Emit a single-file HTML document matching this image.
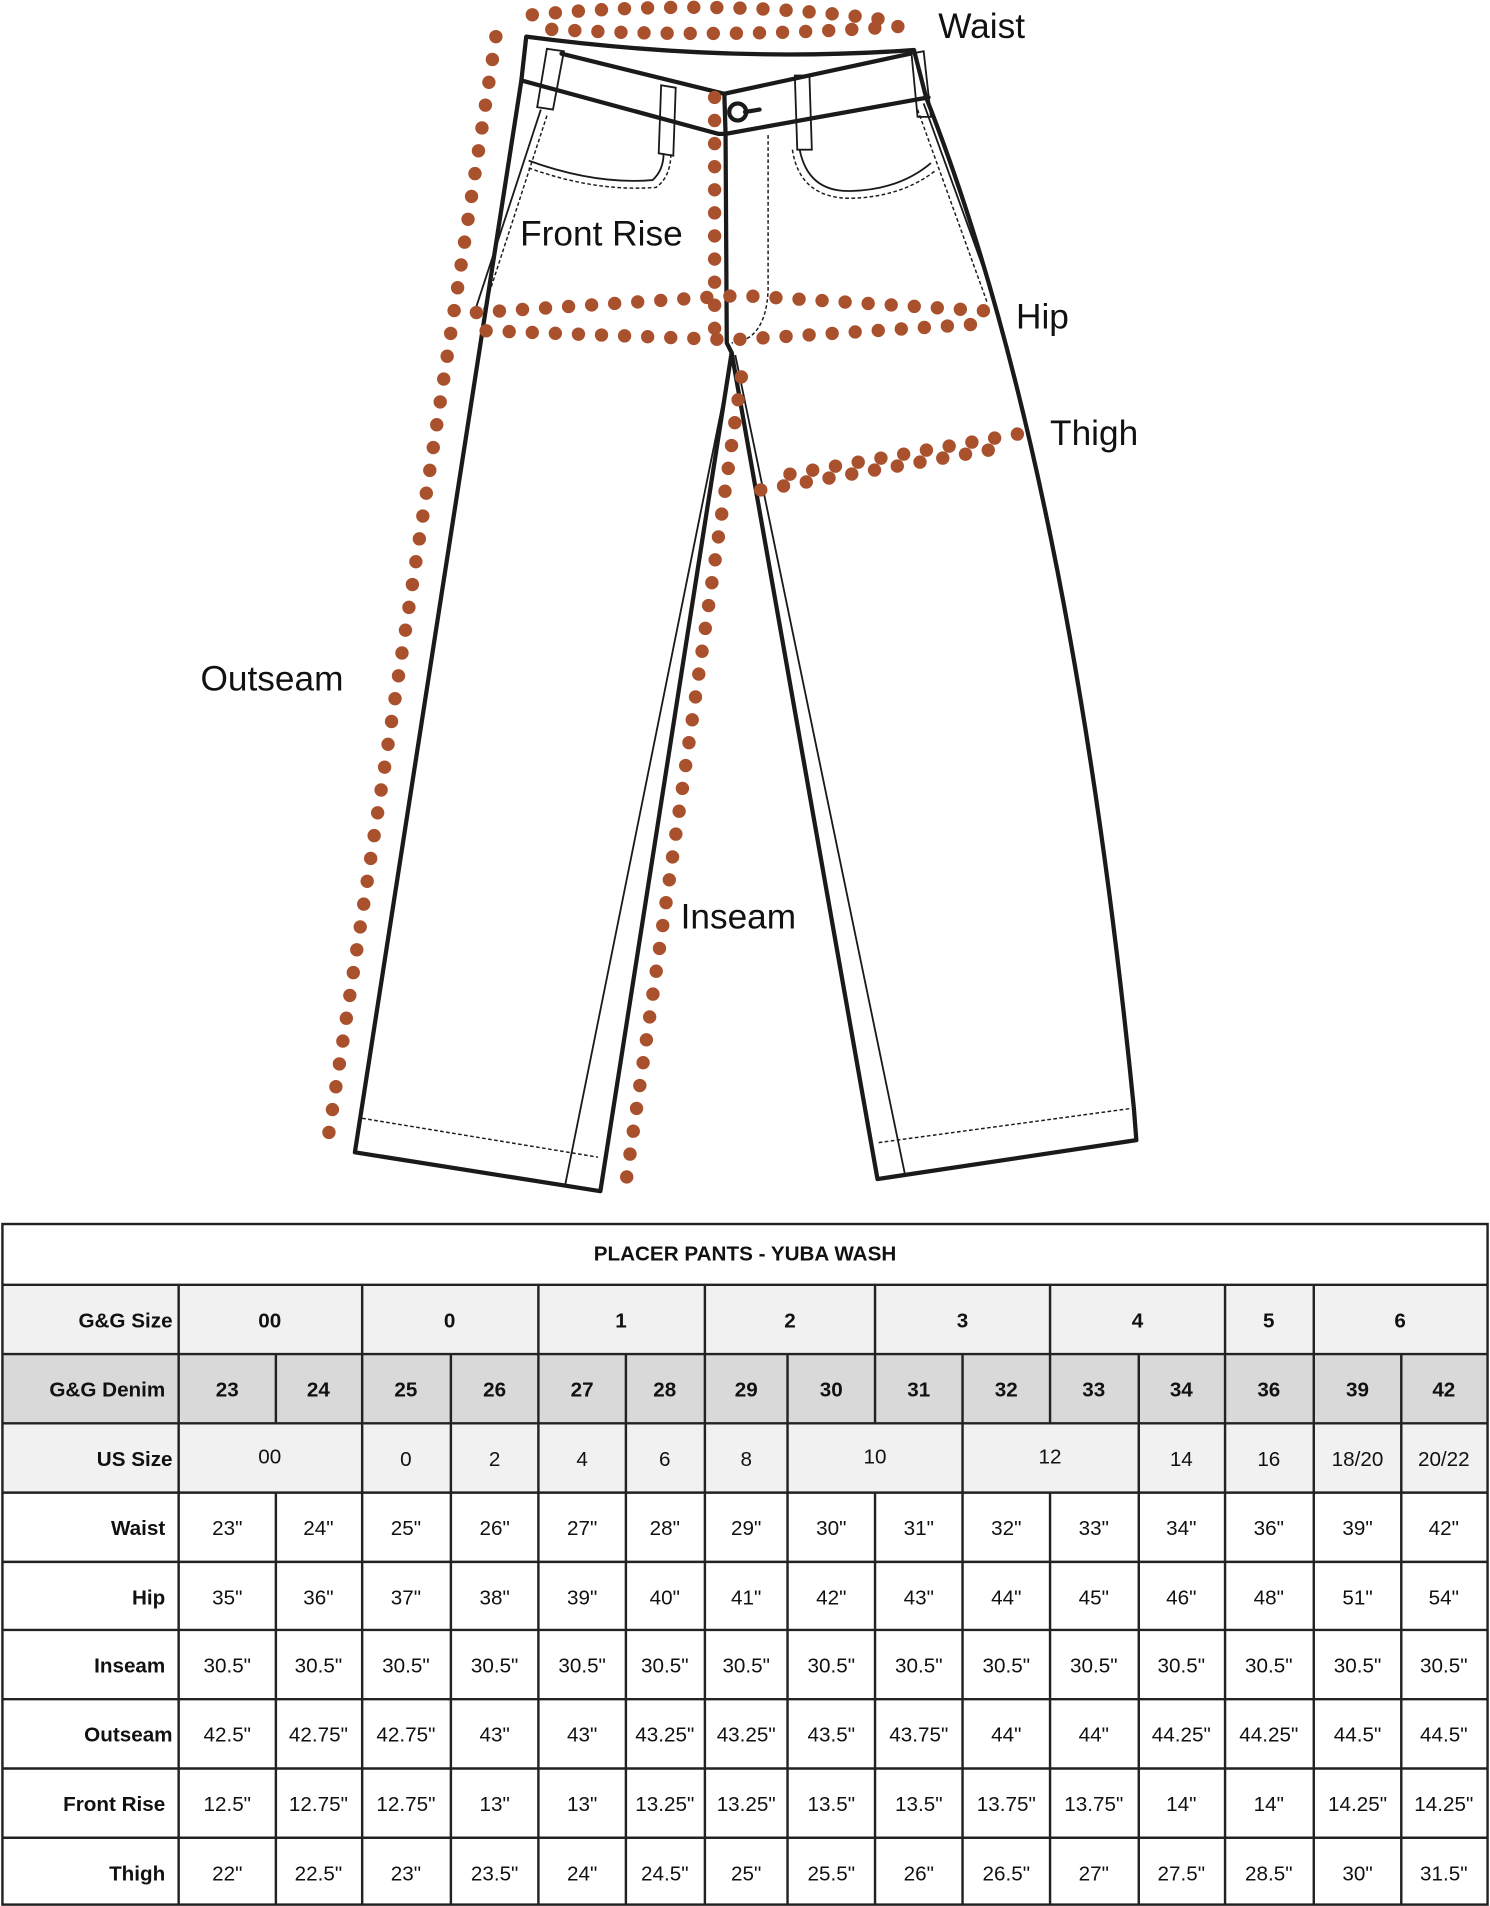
<!DOCTYPE html>
<html><head><meta charset="utf-8"><style>
html,body{margin:0;padding:0;background:#fff}
svg{display:block}
.lb{font-family:"Liberation Sans",sans-serif;font-size:29px;fill:#111}
.t{font-family:"Liberation Sans",sans-serif;font-size:17px;fill:#111;text-anchor:middle}
.b{font-weight:bold}
.r{text-anchor:end}
.d{fill:none;stroke:#a9502d;stroke-width:11;stroke-linecap:round;stroke-dasharray:0 19}
.p{fill:none;stroke:#1a1a1a;stroke-width:3.5;stroke-linejoin:round;stroke-linecap:round}
.th{fill:none;stroke:#1a1a1a;stroke-width:1.5}
.ds{fill:none;stroke:#1a1a1a;stroke-width:1.2;stroke-dasharray:3 2}
</style></head><body>
<svg width="1490" height="1906" viewBox="0 0 1226 1568" xmlns="http://www.w3.org/2000/svg">
<rect width="1226" height="1568" fill="#fff"/>
<path class="p" d="M433,30 Q600,52 752,41 L762,80 Q880,380 933,912 L935,938 L722,970 L602,290 L494,980 L292,948 L429,66 Z"/>
<path class="p" d="M429,66 L591,110 L597,110 L764,80"/>
<path class="p" d="M462,44 L596,77 L749,44"/>
<path class="p" d="M596,77 L597,110 L598,282 L602,290"/>
<circle cx="607" cy="92" r="7" class="p" stroke-width="2.5"/>
<path class="p" stroke-width="2.5" d="M613,92 L625,90"/>
<path class="th" d="M603,290 L465,975"/>
<path class="th" d="M605,292 L745,968"/>
<path class="ds" d="M298,920 L492,952"/>
<path class="ds" d="M723,940 L930,912"/>
<path class="ds" d="M632,111 L632,239 Q630,280 602,282"/>
<path class="th" d="M435,132 Q490,152 537,148 Q546,140 546,126"/>
<path class="ds" d="M435,138 Q490,158 540,154 Q552,145 552,126"/>
<path class="th" d="M658,123 Q665,158 700,157 Q740,156 766,134"/>
<path class="ds" d="M652,123 Q658,163 700,163 Q742,162 770,140"/>
<path class="th" d="M445,90 L392,252"/>
<path class="ds" d="M450,95 L398,255"/>
<path class="th" d="M760,85 L818,245"/>
<path class="ds" d="M755,90 L812,248"/>
<path class="th" fill="#fff" d="M450,40 L464,42 L455,90 L442,88 Z"/>
<path class="th" fill="#fff" d="M544,70 L556,72 L554,128 L542,126 Z"/>
<path class="th" fill="#fff" d="M654,62 L666,62 L668,123 L656,123 Z"/>
<path class="th" fill="#fff" d="M750,44 L760,42 L766,96 L755,96 Z"/>
<path class="d" d="M438,12 Q590,-2 727,16"/>
<path class="d" d="M454,24 Q600,32 748,21"/>
<path class="d" d="M408,30 L270,936"/>
<path class="d" d="M588,80 L588,285"/>
<path class="d" d="M392,257 L590,244 L610,243 L817,256"/>
<path class="d" d="M400,272 L590,279 L610,279 L812,266"/>
<path class="d" d="M650,390 L843,356"/>
<path class="d" d="M626,403 L826,368"/>
<path class="d" d="M610,310 L514,980"/>
<text class="lb" x="772" y="31">Waist</text>
<text class="lb" x="428" y="202">Front Rise</text>
<text class="lb" x="836" y="270">Hip</text>
<text class="lb" x="864" y="366">Thigh</text>
<text class="lb" x="165" y="568">Outseam</text>
<text class="lb" x="560" y="764">Inseam</text>
<rect x="147" y="1057" width="1077" height="57" fill="#f1f1f1"/>
<rect x="2" y="1057" width="145" height="57" fill="#f1f1f1"/>
<rect x="2" y="1114" width="1222" height="57" fill="#d9d9d9"/>
<rect x="2" y="1171" width="1222" height="57" fill="#f1f1f1"/>
<g stroke="#222" stroke-width="2" fill="none">
<rect x="2" y="1007" width="1222" height="560"/>
<path d="M2,1057H1224M2,1114H1224M2,1171H1224M2,1228H1224M2,1285H1224M2,1341H1224M2,1398H1224M2,1455H1224M2,1512H1224"/>
<path d="M147,1057V1567M298,1057V1567M443,1057V1567M580,1057V1567M1008,1057V1567M1081,1057V1567"/>
<path d="M720,1057V1171M864,1057V1171M720,1228V1567M864,1228V1567"/>
<path d="M227,1114V1171M371,1114V1171M515,1114V1171M648,1114V1171M792,1114V1171M937,1114V1171M1153,1114V1171"/>
<path d="M371,1171V1228M515,1171V1228M648,1171V1228M792,1171V1228M937,1171V1228M1153,1171V1228"/>
<path d="M227,1228V1567M371,1228V1567M515,1228V1567M648,1228V1567M792,1228V1567M937,1228V1567M1153,1228V1567"/>
</g>
<text class="t b" x="613" y="1037">PLACER PANTS - YUBA WASH</text>
<g class="t b">
<text class="r" x="142" y="1092">G&amp;G Size</text>
<text x="222" y="1092">00</text><text x="370" y="1092">0</text><text x="511" y="1092">1</text><text x="650" y="1092">2</text><text x="792" y="1092">3</text><text x="936" y="1092">4</text><text x="1044" y="1092">5</text><text x="1152" y="1092">6</text>
<text class="r" x="136" y="1149">G&amp;G Denim</text>
<text x="187" y="1149">23</text><text x="262" y="1149">24</text><text x="334" y="1149">25</text><text x="407" y="1149">26</text><text x="479" y="1149">27</text><text x="547" y="1149">28</text><text x="614" y="1149">29</text><text x="684" y="1149">30</text><text x="756" y="1149">31</text><text x="828" y="1149">32</text><text x="900" y="1149">33</text><text x="972" y="1149">34</text><text x="1044" y="1149">36</text><text x="1117" y="1149">39</text><text x="1188" y="1149">42</text>
<text class="r" x="142" y="1206">US Size</text>
<text class="r" x="136" y="1263">Waist</text>
<text class="r" x="136" y="1320">Hip</text>
<text class="r" x="136" y="1376">Inseam</text>
<text class="r" x="142" y="1433">Outseam</text>
<text class="r" x="136" y="1490">Front Rise</text>
<text class="r" x="136" y="1547">Thigh</text>
</g>
<g class="t">
<text x="222" y="1204">00</text><text x="334" y="1206">0</text><text x="407" y="1206">2</text><text x="479" y="1206">4</text><text x="547" y="1206">6</text><text x="614" y="1206">8</text><text x="720" y="1204">10</text><text x="864" y="1204">12</text><text x="972" y="1206">14</text><text x="1044" y="1206">16</text><text x="1117" y="1206">18/20</text><text x="1188" y="1206">20/22</text>
</g>
<g class="t">
<text x="187" y="1263">23"</text><text x="262" y="1263">24"</text><text x="334" y="1263">25"</text><text x="407" y="1263">26"</text><text x="479" y="1263">27"</text><text x="547" y="1263">28"</text><text x="614" y="1263">29"</text><text x="684" y="1263">30"</text><text x="756" y="1263">31"</text><text x="828" y="1263">32"</text><text x="900" y="1263">33"</text><text x="972" y="1263">34"</text><text x="1044" y="1263">36"</text><text x="1117" y="1263">39"</text><text x="1188" y="1263">42"</text>
<text x="187" y="1320">35"</text><text x="262" y="1320">36"</text><text x="334" y="1320">37"</text><text x="407" y="1320">38"</text><text x="479" y="1320">39"</text><text x="547" y="1320">40"</text><text x="614" y="1320">41"</text><text x="684" y="1320">42"</text><text x="756" y="1320">43"</text><text x="828" y="1320">44"</text><text x="900" y="1320">45"</text><text x="972" y="1320">46"</text><text x="1044" y="1320">48"</text><text x="1117" y="1320">51"</text><text x="1188" y="1320">54"</text>
<text x="187" y="1376">30.5"</text><text x="262" y="1376">30.5"</text><text x="334" y="1376">30.5"</text><text x="407" y="1376">30.5"</text><text x="479" y="1376">30.5"</text><text x="547" y="1376">30.5"</text><text x="614" y="1376">30.5"</text><text x="684" y="1376">30.5"</text><text x="756" y="1376">30.5"</text><text x="828" y="1376">30.5"</text><text x="900" y="1376">30.5"</text><text x="972" y="1376">30.5"</text><text x="1044" y="1376">30.5"</text><text x="1117" y="1376">30.5"</text><text x="1188" y="1376">30.5"</text>
<text x="187" y="1433">42.5"</text><text x="262" y="1433">42.75"</text><text x="334" y="1433">42.75"</text><text x="407" y="1433">43"</text><text x="479" y="1433">43"</text><text x="547" y="1433">43.25"</text><text x="614" y="1433">43.25"</text><text x="684" y="1433">43.5"</text><text x="756" y="1433">43.75"</text><text x="828" y="1433">44"</text><text x="900" y="1433">44"</text><text x="972" y="1433">44.25"</text><text x="1044" y="1433">44.25"</text><text x="1117" y="1433">44.5"</text><text x="1188" y="1433">44.5"</text>
<text x="187" y="1490">12.5"</text><text x="262" y="1490">12.75"</text><text x="334" y="1490">12.75"</text><text x="407" y="1490">13"</text><text x="479" y="1490">13"</text><text x="547" y="1490">13.25"</text><text x="614" y="1490">13.25"</text><text x="684" y="1490">13.5"</text><text x="756" y="1490">13.5"</text><text x="828" y="1490">13.75"</text><text x="900" y="1490">13.75"</text><text x="972" y="1490">14"</text><text x="1044" y="1490">14"</text><text x="1117" y="1490">14.25"</text><text x="1188" y="1490">14.25"</text>
<text x="187" y="1547">22"</text><text x="262" y="1547">22.5"</text><text x="334" y="1547">23"</text><text x="407" y="1547">23.5"</text><text x="479" y="1547">24"</text><text x="547" y="1547">24.5"</text><text x="614" y="1547">25"</text><text x="684" y="1547">25.5"</text><text x="756" y="1547">26"</text><text x="828" y="1547">26.5"</text><text x="900" y="1547">27"</text><text x="972" y="1547">27.5"</text><text x="1044" y="1547">28.5"</text><text x="1117" y="1547">30"</text><text x="1188" y="1547">31.5"</text>
</g>
</svg>
</body></html>
